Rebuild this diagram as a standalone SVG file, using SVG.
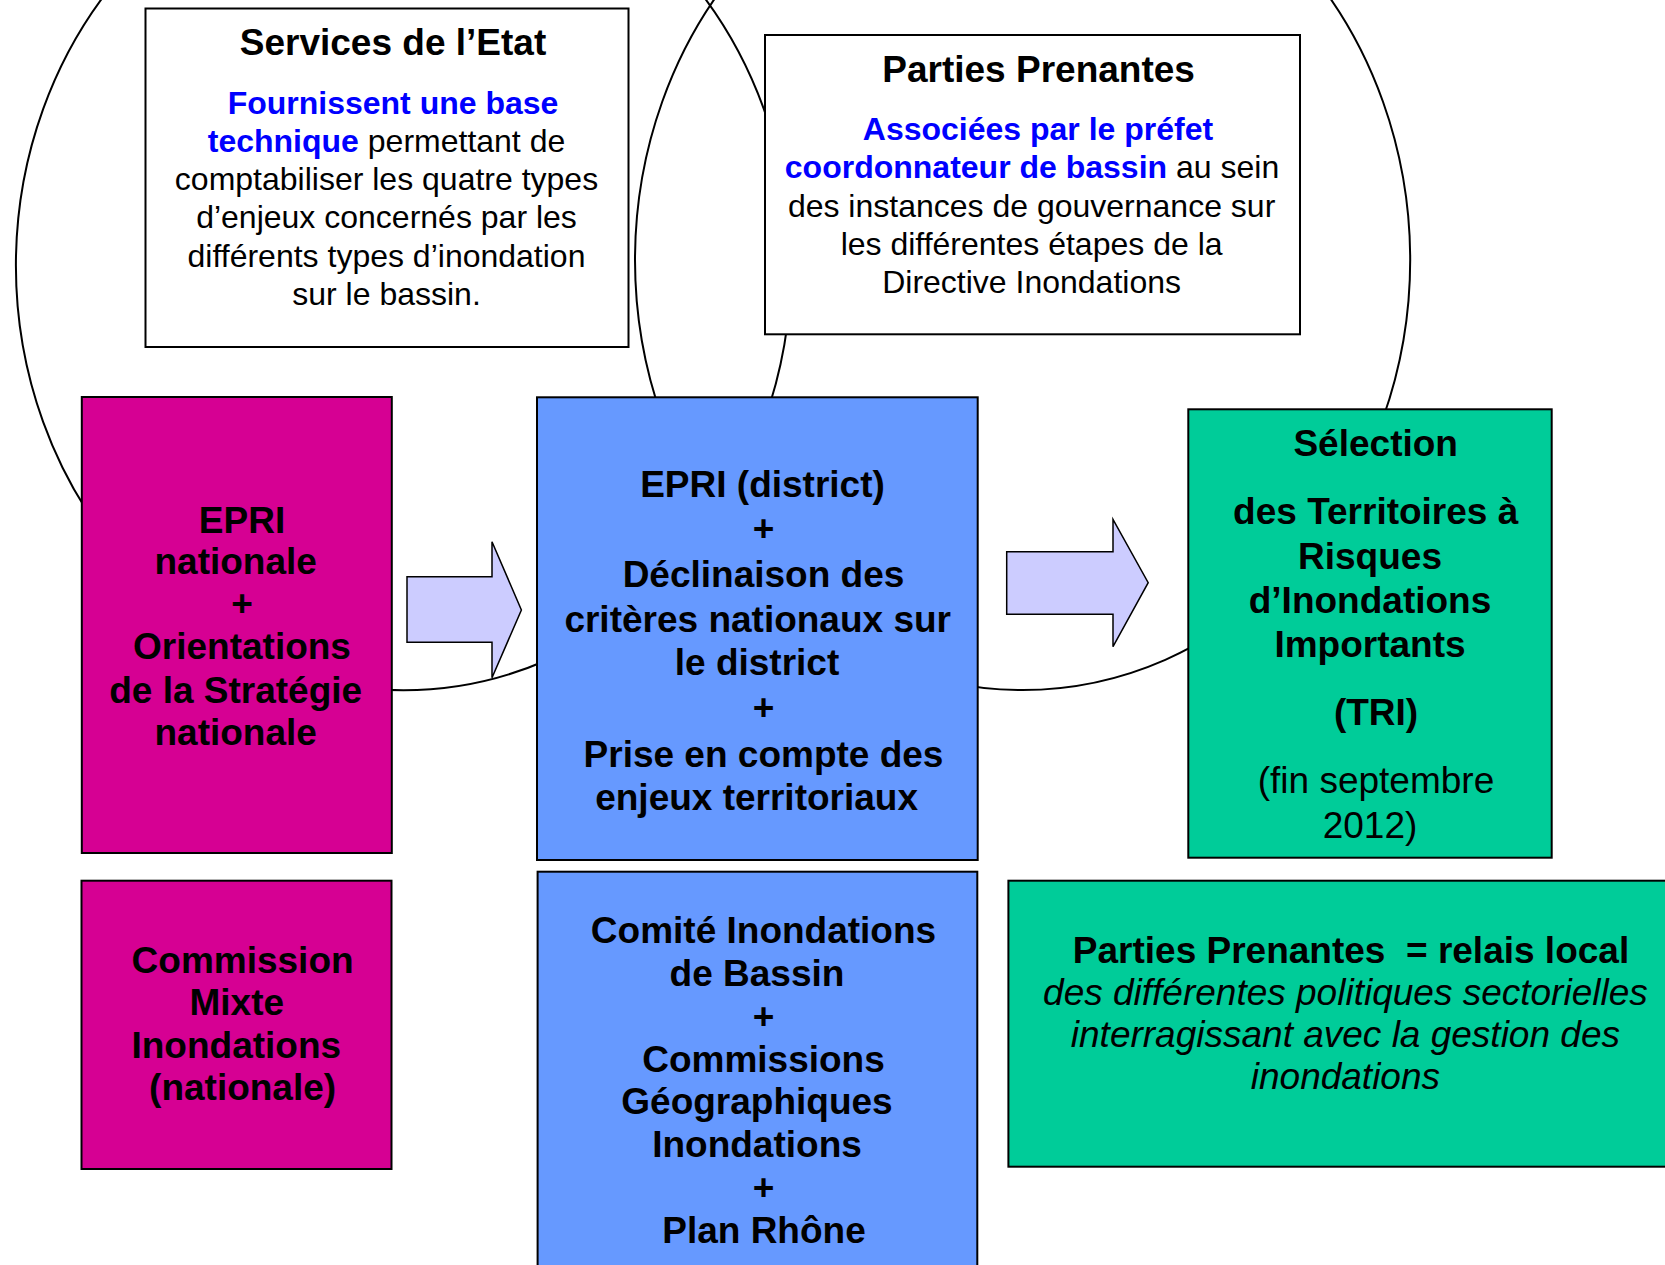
<svg xmlns="http://www.w3.org/2000/svg" width="1665" height="1265" viewBox="0 0 1665 1265">
<style>
  text { font-family: "Liberation Sans", Arial, sans-serif; text-anchor: middle; fill: #000; white-space: pre; }
  .b { font-weight: bold; font-size: 37px; }
  .r { font-size: 37px; }
  .i { font-size: 37px; font-style: italic; }
  .t { font-weight: bold; font-size: 37px; }
  .s { font-size: 32px; }
  .sb { font-size: 32px; font-weight: bold; fill: #0000FF; }
  .box { stroke: #000; stroke-width: 2; }
  .note { fill: #FFFFFF; stroke: #000; stroke-width: 2; }
  .mag { fill: #D60093; }
  .blu { fill: #6699FF; }
  .grn { fill: #00CC99; }
  .ell { fill: none; stroke: #000; stroke-width: 2; }
  .arr { fill: #CCCCFF; stroke: #000; stroke-width: 1.5; }
</style>
<rect width="1665" height="1265" fill="#FFFFFF"/>
<g id="connectors">
  <ellipse class="ell" cx="403.5" cy="265.5" rx="387.6" ry="424.8"/>
  <ellipse class="ell" cx="1022.6" cy="260" rx="387.6" ry="430"/>
  <polygon class="arr" points="407,576.7 492,576.7 492,541.7 521.4,610 492,677.7 492,642.3 407,642.3"/>
  <polygon class="arr" points="1006.7,551.7 1113,551.7 1113,519.3 1148.2,582.7 1113,646.7 1113,614.3 1006.7,614.3"/>
</g>
<g id="services-etat">
  <rect class="note" x="145.5" y="8.5" width="483" height="338.5"/>
  <text class="t" x="393" y="55">Services de l’Etat</text>
  <text class="sb" x="393" y="114">Fournissent une base</text>
  <text class="s" x="386.5" y="151.7"><tspan class="sb">technique</tspan> permettant de</text>
  <text class="s" x="386.5" y="190">comptabiliser les quatre types</text>
  <text class="s" x="386.5" y="228">d’enjeux concernés par les</text>
  <text class="s" x="386.5" y="266.5">différents types d’inondation</text>
  <text class="s" x="386.5" y="305">sur le bassin.</text>
</g>
<g id="parties-prenantes">
  <rect class="note" x="765" y="35" width="535" height="299.3"/>
  <text class="t" x="1038.6" y="81.5">Parties Prenantes</text>
  <text class="sb" x="1038" y="140">Associées par le préfet</text>
  <text class="s" x="1032" y="178.3"><tspan class="sb">coordonnateur de bassin</tspan> au sein</text>
  <text class="s" x="1031.6" y="216.7">des instances de gouvernance sur</text>
  <text class="s" x="1031.6" y="255">les différentes étapes de la</text>
  <text class="s" x="1031.6" y="293.3">Directive Inondations</text>
</g>
<g id="epri-nationale">
  <rect class="box mag" x="81.8" y="397" width="310" height="456"/>
  <text class="b" x="242" y="533">EPRI</text>
  <text class="b" x="235.7" y="574">nationale</text>
  <text class="b" x="242" y="616">+</text>
  <text class="b" x="242" y="659">Orientations</text>
  <text class="b" x="235.7" y="703">de la Stratégie</text>
  <text class="b" x="235.7" y="745">nationale</text>
</g>
<g id="epri-district">
  <rect class="box blu" x="537" y="397.3" width="440.7" height="462.7"/>
  <text class="b" x="762.5" y="497.3">EPRI (district)</text>
  <text class="b" x="763.5" y="541">+</text>
  <text class="b" x="763.5" y="586.7">Déclinaison des</text>
  <text class="b" x="757.7" y="631.7">critères nationaux sur</text>
  <text class="b" x="757" y="675">le district</text>
  <text class="b" x="763.5" y="720">+</text>
  <text class="b" x="763.5" y="766.7">Prise en compte des</text>
  <text class="b" x="756.6" y="810">enjeux territoriaux</text>
</g>
<g id="selection-tri">
  <rect class="box grn" x="1188.3" y="409.3" width="363.4" height="448.4"/>
  <text class="b" x="1375.7" y="456">Sélection</text>
  <text class="b" x="1375.7" y="524">des Territoires à</text>
  <text class="b" x="1370" y="569.3">Risques</text>
  <text class="b" x="1370" y="613.3">d’Inondations</text>
  <text class="b" x="1370" y="657.3">Importants</text>
  <text class="b" x="1376" y="725">(TRI)</text>
  <text class="r" x="1376" y="793.3">(fin septembre</text>
  <text class="r" x="1370" y="838.3">2012)</text>
</g>
<g id="commission-mixte">
  <rect class="box mag" x="81.5" y="880.7" width="310" height="288.3"/>
  <text class="b" x="242.6" y="973.3">Commission</text>
  <text class="b" x="236.8" y="1015">Mixte</text>
  <text class="b" x="236.3" y="1058.3">Inondations</text>
  <text class="b" x="242.6" y="1100">(nationale)</text>
</g>
<g id="comite-bassin">
  <rect class="box blu" x="537.6" y="871.7" width="439.7" height="420"/>
  <text class="b" x="763.5" y="942.7">Comité Inondations</text>
  <text class="b" x="757" y="986">de Bassin</text>
  <text class="b" x="763.5" y="1028.5">+</text>
  <text class="b" x="763.5" y="1071.7">Commissions</text>
  <text class="b" x="757" y="1114">Géographiques</text>
  <text class="b" x="757" y="1156.7">Inondations</text>
  <text class="b" x="763.5" y="1199.5">+</text>
  <text class="b" x="764" y="1242.7">Plan Rhône</text>
</g>
<g id="relais-local">
  <rect class="box grn" x="1008.4" y="880.7" width="700" height="286"/>
  <text class="b" x="1351" y="963.3">Parties Prenantes  = relais local</text>
  <text class="i" x="1345.4" y="1005">des différentes politiques sectorielles</text>
  <text class="i" x="1345.4" y="1046.7">interragissant avec la gestion des</text>
  <text class="i" x="1345.4" y="1089.3">inondations</text>
</g>
</svg>
